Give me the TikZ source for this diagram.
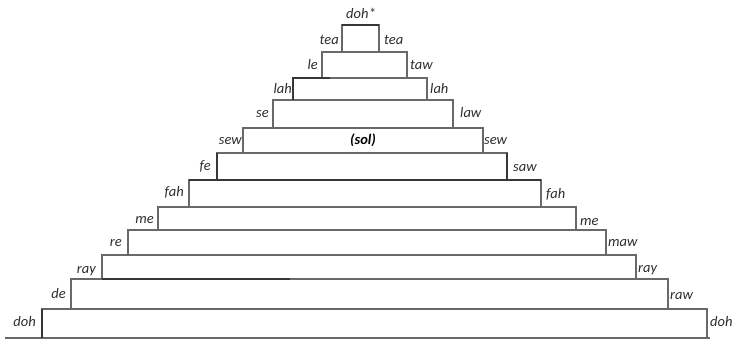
\documentclass[tikz,border=0pt]{standalone}
\usepackage{fontspec}
\setmainfont{Carlito}
\definecolor{linegray}{RGB}{105,105,105}
\definecolor{linedark}{RGB}{55,55,55}
\definecolor{textgray}{RGB}{45,45,45}
\begin{document}
\begin{tikzpicture}[x=1pt,y=-1pt,
  tier/.style={draw=linegray, line width=1.4pt},
  edge/.style={draw=linedark, line width=1.6pt},
  lbl/.style={font=\fontsize{14.5}{16}\selectfont\itshape, inner sep=0pt, text=textgray},
  lleft/.style={lbl, anchor=mid east},
  lright/.style={lbl, anchor=mid west}]
\useasboundingbox (0,0) rectangle (734,340);

% the tiers of the pyramid, top to bottom: left / right / top / bottom
\foreach \l/\r/\t/\b in {342/379/25/52, 322/407/52/78, 293/427/78/100,
    273/453/100/128, 243/483/128/153, 217/507/153/180, 189/541/180/207,
    158/576/207/230, 128/606/230/255, 102/636/255/279, 71/668/279/309,
    42/707/309/338}
  \draw[tier] (\l,\t) rectangle (\r,\b);

% ground line
\coordinate (gl) at (5,338);
\coordinate (gr) at (710,338);
\draw[tier] (gl) -- (gr);

% darker strokes
\draw[edge] (342,25) -- (379,25);
\draw[edge] (293,100) -- (293,78) -- (330,78);
\draw[edge] (217,180) -- (217,153);
\draw[edge] (507,153) -- (507,180);
\draw[edge] (189,180) -- (541,180);
\draw[edge] (42,338) -- (42,309);
\draw[edge] (102,279) -- (290,279);

% apex and centre labels
\node[lbl] (top) at (361,13) {doh*};
\node[lbl, font=\fontsize{14.5}{16}\selectfont\bfseries\itshape, text=black] (sol) at (363,140) {(sol)};

% left-hand labels
\node[lleft] (l1)  at (339,42)  {tea};
\node[lleft] (l2)  at (318,67)  {le};
\node[lleft] (l3)  at (292,91)  {lah};
\node[lleft] (l4)  at (269,115) {se};
\node[lleft] (l5)  at (242,142) {sew};
\node[lleft] (l6)  at (211,168) {fe};
\node[lleft] (l7)  at (184,194) {fah};
\node[lleft] (l8)  at (154,221) {me};
\node[lleft] (l9)  at (122,244) {re};
\node[lleft] (l10) at (96,271)  {ray};
\node[lleft] (l11) at (66,296)  {de};
\node[lleft] (l12) at (36,324)  {doh};

% right-hand labels
\node[lright] (r1)  at (384,42)  {tea};
\node[lright] (r2)  at (410,67)  {taw};
\node[lright] (r3)  at (430,91)  {lah};
\node[lright] (r4)  at (460,115) {law};
\node[lright] (r5)  at (484,142) {sew};
\node[lright] (r6)  at (513,169) {saw};
\node[lright] (r7)  at (546,196) {fah};
\node[lright] (r8)  at (580,223) {me};
\node[lright] (r9)  at (608,244) {maw};
\node[lright] (r10) at (638,270) {ray};
\node[lright] (r11) at (670,297) {raw};
\node[lright] (r12) at (710,324) {doh};
\end{tikzpicture}
\end{document}
